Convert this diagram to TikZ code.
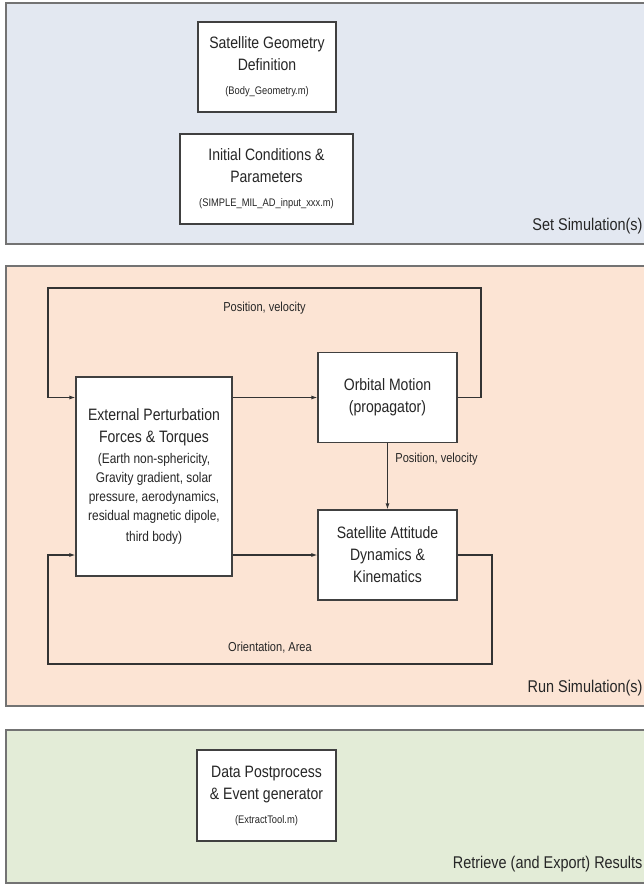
\documentclass[tikz,border=0pt]{standalone}
\usepackage{fontspec}
\setmainfont{Liberation Sans}[FakeStretch=0.85]
\usetikzlibrary{arrows.meta}
\definecolor{setblue}{HTML}{E3E8F1}
\definecolor{runpeach}{HTML}{FCE4D4}
\definecolor{retgreen}{HTML}{E3ECD7}
\begin{document}
\begin{tikzpicture}[x=1pt,y=-1pt,
    panel/.style={draw=black!55, line width=1.5pt},
    block/.style={draw=black!75, fill=white, line width=1.1pt, align=center, inner sep=0pt,
        text=black!85, font=\fontsize{16.5}{22}\selectfont},
    flow/.style={draw=black!80, line width=1.1pt, -{Latex[length=6pt,width=4pt]}},
    lbl/.style={text=black!85, font=\fontsize{13}{14}\selectfont},
    stage/.style={anchor=east, text=black!85, font=\fontsize{17}{18}\selectfont}]
    \useasboundingbox (0,0) rectangle (644,886);
    \fill [white] (0,0) rectangle (644,886);
    % the three stages
    \draw [panel, fill = setblue] (6,3) rectangle (652,244);
    \draw [panel, fill = runpeach] (6,266) rectangle (652,706);
    \draw [panel, fill = retgreen] (6,730) rectangle (652,883);
    \node [stage] (setlbl) at (646,226) {Set Simulation(s)};
    \node [stage] (runlbl) at (646,688) {Run Simulation(s)};
    \node [stage] (retlbl) at (646,864) {Retrieve (and Export) Results};
    % set simulation
    \node [block, minimum width=138pt, minimum height=90pt] (geom) at (267,67)
        {Satellite Geometry\\ Definition\\[2pt] {\fontsize{11}{12}\selectfont (Body\_Geometry.m)}};
    \node [block, minimum width=173pt, minimum height=90pt] (init) at (266.5,179)
        {Initial Conditions \&\\ Parameters\\[2pt] {\fontsize{11}{12}\selectfont (SIMPLE\_MIL\_AD\_input\_xxx.m)}};
    % run simulation
    \node [block, minimum width=156pt, minimum height=199pt] (ext) at (154,476.5)
        {External Perturbation\\ Forces \& Torques\\[-1pt]
        {\fontsize{14}{15}\selectfont (Earth non-sphericity,}\\[-3pt]
        {\fontsize{14}{15}\selectfont Gravity gradient, solar}\\[-3pt]
        {\fontsize{14}{15}\selectfont pressure, aerodynamics,}\\[-3pt]
        {\fontsize{14}{15}\selectfont residual magnetic dipole,}\\[-1pt]
        {\fontsize{14}{15}\selectfont third body)}};
    \node [block, minimum width=139pt, minimum height=90pt] (orb) at (387.5,397.5)
        {Orbital Motion\\ (propagator)};
    \node [block, minimum width=139pt, minimum height=90pt] (att) at (387.5,555)
        {Satellite Attitude\\ Dynamics \&\\ Kinematics};
    \coordinate (tl) at (48,288);
    \coordinate (tr) at (481,288);
    \coordinate (bl) at (48,664);
    \coordinate (br) at (492,664);
    \draw [flow] (orb.west -| ext.east) -- (orb.west);
    \draw [flow] (att.west -| ext.east) -- (att.west);
    \draw [flow] (orb.south) -- node [lbl, pos=0.24, anchor=west, xshift=4pt] {Position, velocity} (att.north);
    \draw [flow] (orb.east) -| (tr) -- node [lbl, midway, yshift=-20pt] {Position, velocity} (tl) |- (orb.west -| ext.west);
    \draw [flow] (att.east) -| (br) -- node [lbl, midway, yshift=16pt] {Orientation, Area} (bl) |- (att.west -| ext.west);
    % retrieve results
    \node [block, minimum width=139pt, minimum height=91pt] (post) at (266.5,795.5)
        {Data Postprocess\\ \& Event generator\\[2pt] {\fontsize{11}{12}\selectfont (ExtractTool.m)}};
\end{tikzpicture}
\end{document}
